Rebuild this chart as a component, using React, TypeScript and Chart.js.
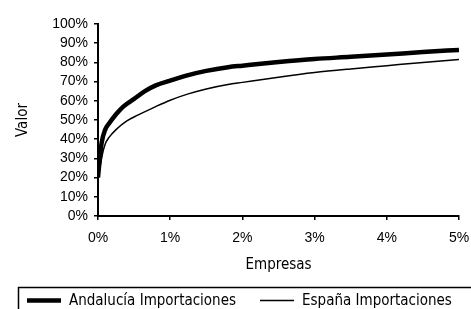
import React, { useEffect, useRef } from "react";
import { Chart, registerables } from "chart.js";

Chart.register(...registerables);

// Share of firms (%)
const andaluciaX = [0, 0.02, 0.05, 0.1, 0.15, 0.25, 0.35, 0.5, 0.65, 0.8, 1.0, 1.25, 1.5, 1.8, 2.0, 2.5, 3.0, 3.5, 4.0, 4.5, 5.0];
// Cumulative share of imports value (%)
const andaluciaY = [20, 28, 38, 45, 48, 53, 57, 61, 65, 68, 70.5, 73.4, 75.6, 77.5, 78.3, 80.2, 81.8, 82.9, 84.1, 85.4, 86.5];

const espanaX = [0, 0.03, 0.06, 0.1, 0.15, 0.25, 0.4, 0.55, 0.8, 1.0, 1.25, 1.5, 1.8, 2.0, 2.5, 3.0, 3.5, 4.0, 4.5, 5.0];
const espanaY = [20, 26, 32, 37.5, 40.8, 45, 49.5, 52.5, 57, 60.3, 63.6, 66.2, 68.5, 69.6, 72.3, 74.7, 76.6, 78.3, 80, 81.5];

const seriesLabels = ["Andalucía Importaciones", "España Importaciones"];
const xTitle = "Empresas";
const yTitle = "Valor";

const NARROW = '"Liberation Sans Narrow", "Arial Narrow", "DejaVu Sans Condensed", sans-serif';
const REGULAR = '"Liberation Sans", Arial, sans-serif';

const boxLegend = {
  id: "boxLegend",
  afterDraw(chart: any) {
    const ctx = chart.ctx;
    ctx.save();
    ctx.strokeStyle = "#000";
    ctx.lineWidth = 1.5;
    ctx.strokeRect(18.5, 287.5, 480, 40);
    ctx.font = "15px " + NARROW;
    ctx.fillStyle = "#000";
    ctx.textBaseline = "middle";
    ctx.textAlign = "left";
    let x = 27;
    const y = 300.5;
    chart.data.datasets.forEach((ds: any) => {
      ctx.lineWidth = ds.borderWidth;
      ctx.beginPath();
      ctx.moveTo(x, y);
      ctx.lineTo(x + 34, y);
      ctx.stroke();
      ctx.fillText(ds.label, x + 42, y + 1);
      x = x + 42 + ctx.measureText(ds.label).width + 24;
    });
    ctx.restore();
  },
};

export default function App() {
  const ref = useRef<HTMLCanvasElement>(null);
  useEffect(() => {
    document.body.style.margin = "0";
    const canvas = ref.current!;
    const chart = new Chart(canvas, {
      type: "line",
      data: {
        datasets: [
          {
            label: seriesLabels[0],
            data: andaluciaX.map((x, i) => ({ x, y: andaluciaY[i] })),
            borderColor: "#000",
            borderWidth: 4.5,
            pointRadius: 0,
            cubicInterpolationMode: "monotone",
            fill: false,
          },
          {
            label: seriesLabels[1],
            data: espanaX.map((x, i) => ({ x, y: espanaY[i] })),
            borderColor: "#000",
            borderWidth: 1.5,
            pointRadius: 0,
            cubicInterpolationMode: "monotone",
            fill: false,
          },
        ],
      },
      options: {
        animation: false,
        responsive: false,
        layout: { padding: { left: 0, right: 12, top: 24, bottom: 33 } },
        plugins: { legend: { display: false }, tooltip: { enabled: false } },
        scales: {
          x: {
            type: "linear",
            min: 0,
            max: 5,
            afterFit: (s: any) => {
              s.height = 60;
              s.paddingRight = 0;
              s.paddingLeft = 0;
            },
            ticks: {
              stepSize: 1,
              padding: 10,
              autoSkip: false,
              maxRotation: 0,
              color: "#000",
              font: { family: REGULAR, size: 14 },
              callback: (v: any) => v + "%",
            },
            grid: { display: true, drawOnChartArea: false, drawTicks: true, tickLength: 4, color: "#000", lineWidth: 1.5 },
            border: { display: true, color: "#000", width: 2 },
            title: {
              display: true,
              text: xTitle,
              color: "#000",
              font: { family: NARROW, size: 15 },
              padding: { top: 0, bottom: 2 },
            },
          },
          y: {
            min: 0,
            max: 100,
            afterFit: (s: any) => {
              s.width = 98;
            },
            ticks: {
              stepSize: 10,
              autoSkip: false,
              padding: 6,
              color: "#000",
              font: { family: REGULAR, size: 14 },
              callback: (v: any) => v + "%",
            },
            grid: { display: true, drawOnChartArea: false, drawTicks: true, tickLength: 4, color: "#000", lineWidth: 1.5 },
            border: { display: true, color: "#000", width: 2 },
            title: {
              display: true,
              text: yTitle,
              color: "#000",
              font: { family: NARROW, size: 15 },
              padding: { top: 14, bottom: 0 },
            },
          },
        },
      },
      plugins: [boxLegend],
    });
    return () => chart.destroy();
  }, []);
  return (
    <div style={{ width: 471, height: 309, overflow: "hidden", background: "#fff" }}>
      <canvas ref={ref} width={471} height={309} style={{ display: "block" }} />
    </div>
  );
}
